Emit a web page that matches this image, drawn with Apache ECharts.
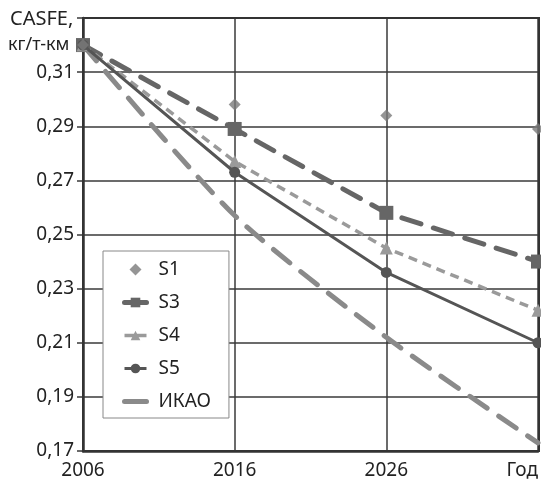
<!DOCTYPE html>
<html>
<head>
<meta charset="utf-8">
<script src="https://cdn.jsdelivr.net/npm/echarts@6/dist/echarts.min.js"></script>
<style>
  html, body { margin: 0; padding: 0; background: #fff; }
  #chart { width: 541px; height: 482px; }
</style>
</head>
<body>
<div id="chart"></div>
<script>
const years = [2006, 2016, 2026, 2036]
const s1 = [0.32, 0.298, 0.294, 0.289]
const s3 = [0.32, 0.289, 0.258, 0.240]
const s4 = [0.32, 0.277, 0.245, 0.222]
const s5 = [0.32, 0.273, 0.236, 0.210]
const icao = [0.32, 0.257, 0.212, 0.173]

const pairs = vals => years.map((y, i) => [y, vals[i]])
const font = '"Noto Sans", "Open Sans", sans-serif'

const chart = echarts.init(document.getElementById('chart'))

chart.setOption({
  animation: false,
  textStyle: { fontFamily: font },
  grid: { left: 83, right: 2, top: 18, bottom: 31, show: false },
  xAxis: {
    type: 'value',
    min: 2006,
    max: 2036,
    interval: 10,
    axisLine: { lineStyle: { color: '#333', width: 2.5 } },
    axisTick: { show: false },
    splitLine: { lineStyle: { color: '#3a3a3a', width: 1.5 } },
    axisLabel: {
      color: '#222',
      fontSize: 19,
      margin: 10,
      alignMaxLabel: 'right',
      formatter: v => (v === 2036 ? 'Год' : String(v))
    }
  },
  yAxis: {
    type: 'value',
    min: 0.17,
    max: 0.33,
    interval: 0.02,
    axisLine: { show: true, lineStyle: { color: '#333', width: 2.5 } },
    axisTick: { show: true, length: 6, lineStyle: { color: '#3a3a3a', width: 1.5 } },
    splitLine: { lineStyle: { color: '#3a3a3a', width: 1.5 } },
    axisLabel: {
      color: '#222',
      fontSize: 19,
      margin: 9,
      formatter: v => (Math.abs(v - 0.33) < 1e-6 ? '' : v.toFixed(2).replace('.', ','))
    }
  },
  graphic: [
    { type: 'rect', shape: { x: 83, y: 18, width: 456, height: 433 }, style: { fill: 'none', stroke: '#333', lineWidth: 2 }, z: 1 },
    { type: 'text', left: 10, top: 9, style: { text: 'CASFE,', font: '20px ' + font, fill: '#222' } },
    { type: 'text', left: 8, top: 36, style: { text: 'кг/т-км', font: '18px ' + font, fill: '#222' } }
  ],
  legend: {
    orient: 'vertical',
    left: 103,
    top: 251,
    padding: [9, 18, 7, 19],
    itemGap: 14,
    itemWidth: 22,
    itemHeight: 12,
    backgroundColor: '#fff',
    borderColor: '#888',
    borderWidth: 1,
    borderRadius: 0,
    textStyle: { fontSize: 19, color: '#222', padding: [0, 0, 0, 7] },
    data: [
      { name: 'S1', icon: 'path://M5,0 L10,5 L5,10 L0,5 Z' },
      { name: 'S3', lineStyle: { width: 5, type: 'solid' } },
      { name: 'S4', lineStyle: { width: 3.5, type: 'solid' } },
      { name: 'S5', lineStyle: { width: 3, type: 'solid' } },
      { name: 'ИКАО', itemStyle: { opacity: 0 }, lineStyle: { width: 5, type: 'solid' } }
    ]
  },
  series: [
    {
      name: 'ИКАО',
      type: 'line',
      data: pairs(icao),
      symbol: 'none',
      smooth: 0.25,
      lineStyle: { color: '#8a8a8a', width: 5, type: [21, 14], cap: 'round' },
      itemStyle: { color: '#8a8a8a' },
      z: 3
    },
    {
      name: 'S3',
      type: 'line',
      data: pairs(s3),
      symbol: 'rect',
      symbolSize: 14,
      lineStyle: { color: '#666', width: 5, type: [20, 13], cap: 'round' },
      itemStyle: { color: '#666' },
      z: 4
    },
    {
      name: 'S4',
      type: 'line',
      data: pairs(s4),
      symbol: 'triangle',
      symbolSize: 13,
      lineStyle: { color: '#9a9a9a', width: 3.5, type: [9, 6] },
      itemStyle: { color: '#9a9a9a' },
      z: 4
    },
    {
      name: 'S5',
      type: 'line',
      data: pairs(s5),
      symbol: 'circle',
      symbolSize: 11,
      lineStyle: { color: '#555', width: 3 },
      itemStyle: { color: '#555' },
      z: 5
    },
    {
      name: 'S1',
      type: 'scatter',
      data: pairs(s1),
      symbol: 'diamond',
      symbolSize: 12,
      itemStyle: { color: '#7a7a7a' },
      z: 6
    }
  ]
})
</script>
</body>
</html>
